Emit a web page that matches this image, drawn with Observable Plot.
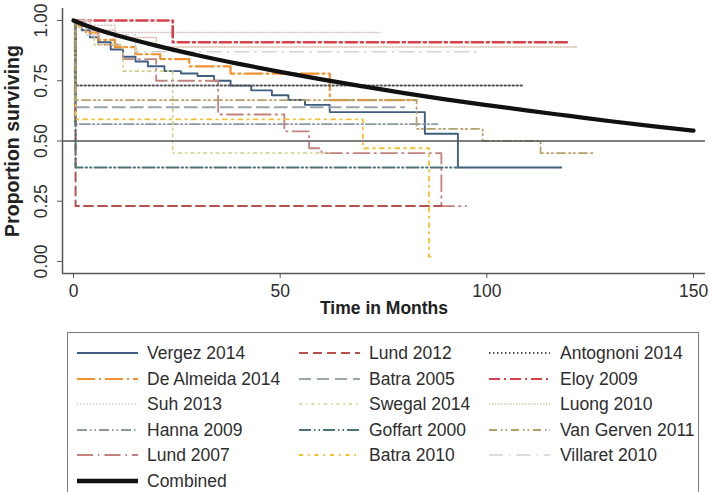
<!DOCTYPE html>
<html>
<head>
<meta charset="utf-8">
<script src="https://cdn.jsdelivr.net/npm/d3@7"></script>
<script src="https://cdn.jsdelivr.net/npm/@observablehq/plot@0.6"></script>
<style>
  body { margin: 0; background: #fff; font-family: "Liberation Sans", Arial, sans-serif; }
  #wrap { position: relative; width: 710px; height: 492px; overflow: hidden; }
  #chart svg { display: block; }
  #legend { position: absolute; left: 67px; top: 332px; width: 632px; height: 200px;
            border: 1.5px solid #7c7c7c; box-sizing: border-box; }
  .sw { position: absolute; }
  .lab { position: absolute; font-size: 17.5px; color: #2e2e2e; line-height: 20px; white-space: nowrap; }
</style>
</head>
<body>
<div id="wrap">
  <div id="chart"></div>
  <div id="legend"></div>
</div>
<script>
// Kaplan-Meier curves per study: step times (months), survival after each step, end of follow-up
const studyNames = [
  "Vergez 2014", "De Almeida 2014", "Suh 2013", "Hanna 2009", "Lund 2007",
  "Lund 2012", "Batra 2005", "Swegal 2014", "Goffart 2000", "Batra 2010",
  "Antognoni 2014", "Eloy 2009", "Luong 2010", "Van Gerven 2011", "Villaret 2010"
];
const stepTimes = [
  [0, 1, 2, 4, 6, 9, 12, 15, 18, 22, 26, 30, 34, 38, 43, 48, 52, 56, 62, 85, 93],
  [0, 1, 3, 6, 10, 15, 21, 28, 38, 62],
  [0, 3, 10],
  [0, 0.3],
  [0, 2, 6, 12, 20, 35, 51, 57, 60, 89],
  [0, 0.5],
  [0, 0.5],
  [0, 1, 5, 12, 24],
  [0, 0.5],
  [0, 0.5, 70, 86],
  [0, 0.5],
  [0, 24],
  [0, 4, 10, 20],
  [0, 0.5, 83, 99, 113],
  [0, 3, 15]
];
const stepSurvival = [
  [1, 0.98, 0.96, 0.93, 0.91, 0.88, 0.85, 0.83, 0.81, 0.79, 0.78, 0.77, 0.75, 0.73, 0.71, 0.69, 0.67, 0.65, 0.62, 0.53, 0.39],
  [1, 0.98, 0.95, 0.92, 0.89, 0.86, 0.84, 0.81, 0.78, 0.67],
  [1, 0.98, 0.95],
  [1, 0.57],
  [1, 0.96, 0.90, 0.84, 0.75, 0.61, 0.54, 0.47, 0.45, 0.23],
  [1, 0.23],
  [1, 0.64],
  [1, 0.97, 0.90, 0.79, 0.45],
  [1, 0.39],
  [1, 0.59, 0.47, 0.02],
  [1, 0.73],
  [1, 0.91],
  [1, 0.96, 0.93, 0.89],
  [1, 0.67, 0.55, 0.50, 0.45],
  [1, 0.94, 0.87]
];
const followUpEnd = [118, 83, 74, 88, 95, 89, 80, 62, 93, 87, 109, 120, 122, 126, 98];

// Pooled survival estimate
const combinedMonths = [0, 5, 10, 20, 30, 40, 50, 60, 70, 80, 90, 100, 110, 120, 130, 140, 150];
const combinedSurvival = [1.0, 0.967, 0.941, 0.896, 0.856, 0.820, 0.787, 0.756, 0.727, 0.699, 0.673, 0.649, 0.626, 0.604, 0.582, 0.562, 0.543];

const xTicks = [0, 50, 100, 150];
const yTicks = [0, 0.25, 0.5, 0.75, 1];
const referenceLevel = [0.5];

// Line styles, in the same order as studyNames
const studyColors = [
  "#3f5f80", "#f0922e", "#d9c4c6", "#8e9aa3", "#c4827e",
  "#b8514d", "#99a4ad", "#d3cf8a", "#4a7375", "#f3bf2e",
  "#555555", "#d8404a", "#dcc0b0", "#b4a06a", "#cfd3d6"
];
const studyDashes = [
  null, "18,4,2,4", "1.2,2", "10,3,1.5,3,1.5,3", "16,5,1.5,5",
  "9,5", "12,6", "3,4,1.5,4", "12,3,1.5,3,1.5,3", "4,5,1.5,5",
  "1.5,2.5", "11,4,2,4", "1.5,1.5", "8,4,1.5,3,1.5,4", "14,6,1.5,6"
];
const studyWidths = [1.9, 2.2, 1.5, 1.8, 1.8, 2, 2, 1.6, 1.9, 1.8, 2, 2.6, 1.5, 1.8, 1.5];

const xDomain = [-2.66, 152.9];
const yDomain = [-0.05, 1.05];

const marks = [];
studyNames.forEach((name, i) => {
  const rows = stepTimes[i].map((t, j) => ({study: name, t, s: stepSurvival[i][j]}));
  rows.push({study: name, t: followUpEnd[i], s: stepSurvival[i][stepSurvival[i].length - 1]});
  marks.push(Plot.line(rows, {
    x: "t", y: "s", curve: "step-after",
    stroke: studyColors[i], strokeWidth: studyWidths[i],
    strokeDasharray: studyDashes[i] || undefined
  }));
});

const combined = combinedMonths.map((t, i) => ({t, s: combinedSurvival[i]}));

const chart = Plot.plot({
  width: 710,
  height: 328,
  marginLeft: 62,
  marginRight: 5,
  marginTop: 8,
  marginBottom: 55,
  x: {domain: xDomain},
  y: {domain: yDomain},
  style: {fontFamily: "Liberation Sans, Arial, sans-serif", fontSize: "17px", color: "#333", background: "white", overflow: "visible"},
  marks: [
    // axis lines
    Plot.ruleX([xDomain[0]], {stroke: "#555", strokeWidth: 1.5}),
    Plot.ruleY([yDomain[0]], {stroke: "#555", strokeWidth: 1.5}),
    Plot.axisX({ticks: xTicks, tickSize: 5, tickPadding: 6, tickFormat: d3.format("d"), label: null, stroke: "#555", fill: "#2e2e2e", fontSize: 17.5}),
    Plot.axisY({ticks: yTicks, tickSize: 5, tickFormat: () => "", label: null, stroke: "#555"}),
    Plot.text(yTicks, {y: d => d, text: d3.format(".2f"), frameAnchor: "left", textAnchor: "middle", dx: -21, rotate: -90, fontSize: 17.5, fill: "#2e2e2e"}),
    Plot.text(["Time in Months"], {frameAnchor: "bottom", dy: 40, fontWeight: "bold", fontSize: 17.5, fill: "#222"}),
    Plot.text(["Proportion surviving"], {frameAnchor: "left", textAnchor: "middle", dx: -50, rotate: -90, fontWeight: "bold", fontSize: 19.5, fill: "#222"}),
    ...marks,
    Plot.ruleY(referenceLevel, {stroke: "#555", strokeWidth: 1.6}),
    Plot.line(combined, {x: "t", y: "s", curve: "monotone-x", stroke: "#111", strokeWidth: 4.2})
  ]
});
document.getElementById("chart").appendChild(chart);

// Legend: three columns of five studies, then the pooled curve
const legend = document.getElementById("legend");
const swatchX = [9, 231, 421];
const labelX = [79, 301, 492];
const rowY0 = 20, rowStep = 25.6;
function addEntry(col, row, label, color, dash, width) {
  const cy = rowY0 + row * rowStep;
  const svg = d3.create("svg").attr("class", "sw").attr("width", 62).attr("height", 12)
    .style("left", swatchX[col] + "px").style("top", (cy - 6) + "px");
  svg.append("line").attr("x1", 0).attr("x2", 61).attr("y1", 6).attr("y2", 6)
    .attr("stroke", color).attr("stroke-width", width)
    .attr("stroke-dasharray", dash || null);
  legend.appendChild(svg.node());
  const div = document.createElement("div");
  div.className = "lab";
  div.textContent = label;
  div.style.left = labelX[col] + "px";
  div.style.top = (cy - 10) + "px";
  legend.appendChild(div);
}
studyNames.forEach((name, i) => {
  addEntry(Math.floor(i / 5), i % 5, name, studyColors[i], studyDashes[i], Math.min(studyWidths[i], 2.2));
});
addEntry(0, 5, "Combined", "#111", null, 4.5);
</script>
</body>
</html>
